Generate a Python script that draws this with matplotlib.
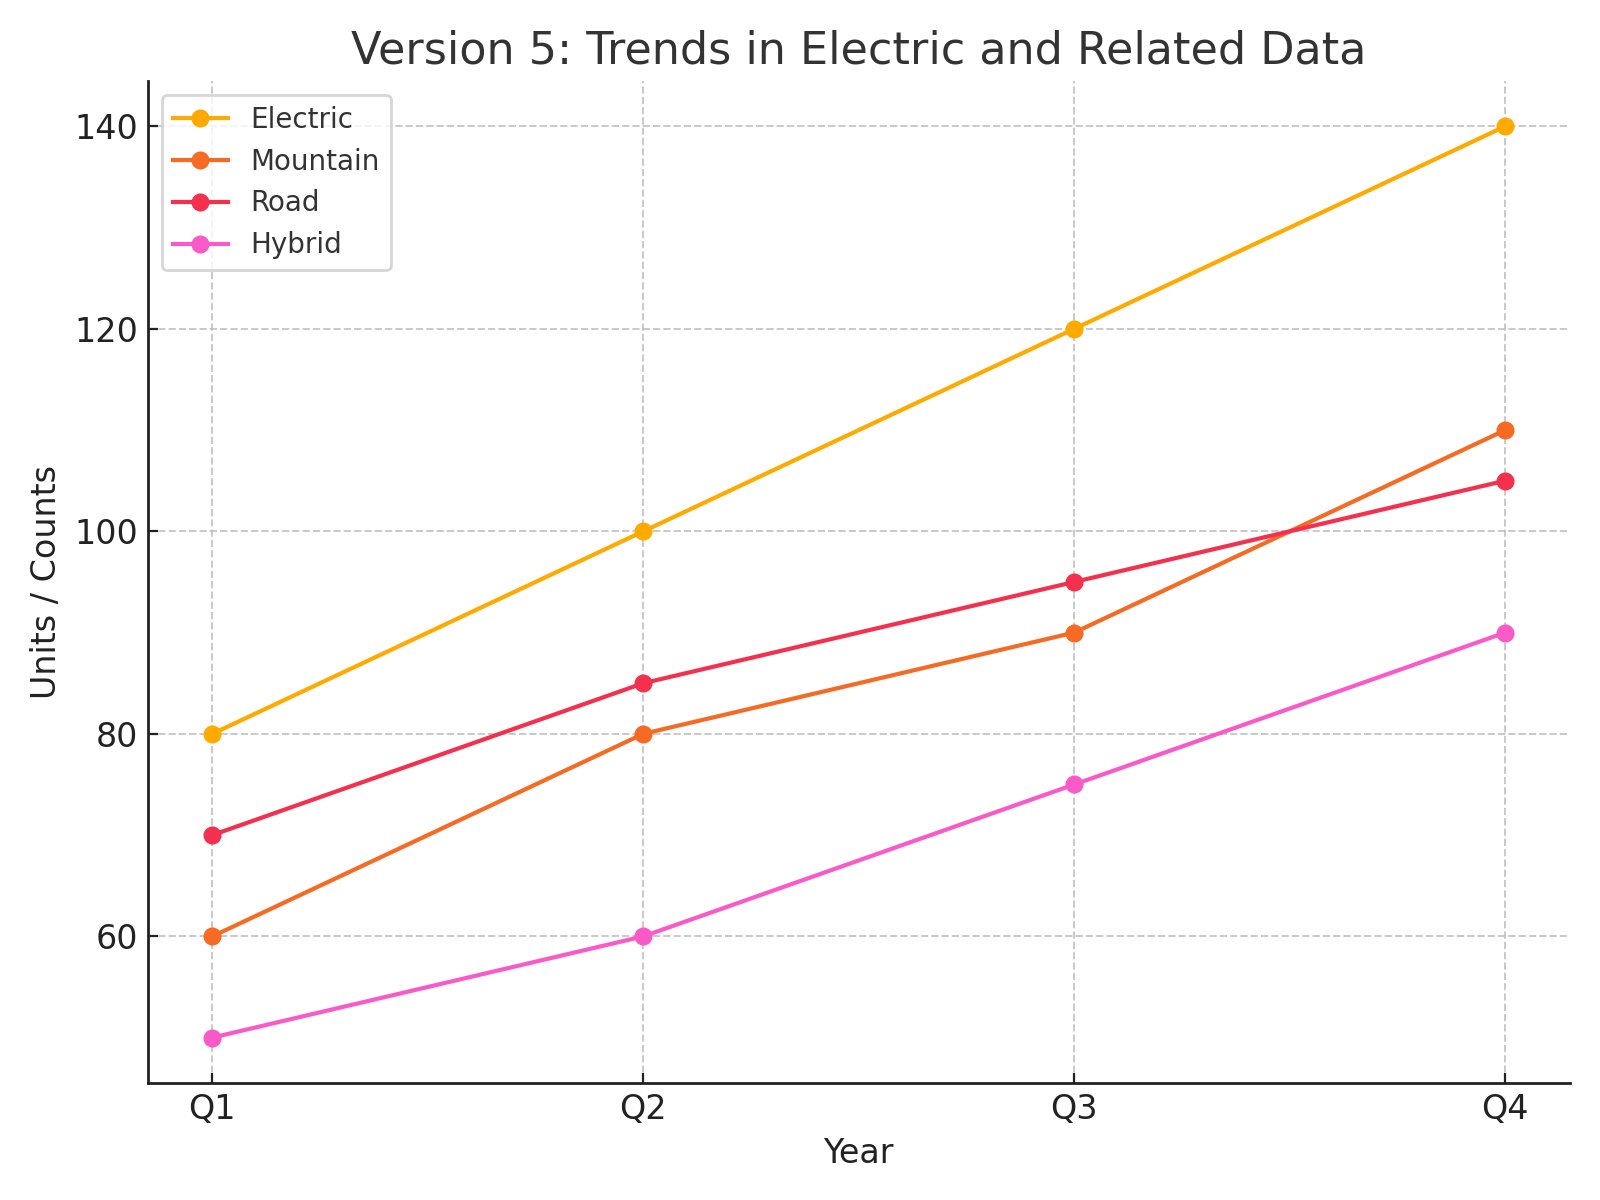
import matplotlib
matplotlib.use('Agg')
import matplotlib.pyplot as plt

quarters = ['Q1', 'Q2', 'Q3', 'Q4']
electric = [80, 100, 120, 140]
mountain = [60, 80, 90, 110]
road = [70, 85, 95, 105]
hybrid = [50, 60, 75, 90]

series = [
    ('Electric', electric, '#FFAA00'),
    ('Mountain', mountain, '#F56B23'),
    ('Road', road, '#F5304E'),
    ('Hybrid', hybrid, '#FA5AC7'),
]

plt.rcParams['font.family'] = ['DejaVu Sans']
fig, ax = plt.subplots(figsize=(8, 6), dpi=200)

for name, vals, color in series:
    ax.plot(quarters, vals, marker='o', color=color, linewidth=1.5, markersize=5.5, label=name)

ax.set_title('Version 5: Trends in Electric and Related Data', fontsize=16, color='#333333')
ax.set_xlabel('Year', fontsize=12, color='#222222')
ax.set_ylabel('Units / Counts', fontsize=12, color='#222222')
ax.tick_params(labelsize=12, colors='#222222', direction='in')
ax.grid(True, linestyle='--', color='#bbbbbb', alpha=0.8, linewidth=0.7)
ax.spines['top'].set_visible(False)
ax.spines['right'].set_visible(False)
for s in ['left', 'bottom']:
    ax.spines[s].set_color('#222222')
    ax.spines[s].set_linewidth(1.0)
leg = ax.legend(loc='upper left', fontsize=10, frameon=True)
leg.get_frame().set_edgecolor('#cccccc')
for t in leg.get_texts():
    t.set_color('#333333')

plt.tight_layout()
plt.savefig('out.png')
